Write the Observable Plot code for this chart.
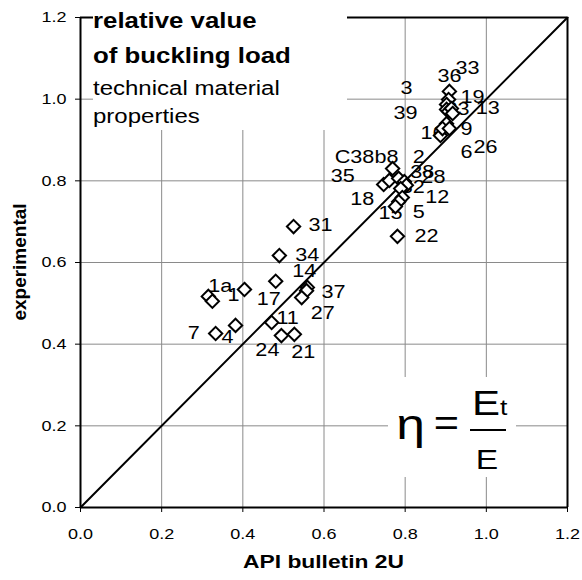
<!DOCTYPE html>
<html>
<head>
<meta charset="utf-8">
<script src="https://cdn.jsdelivr.net/npm/d3@7"></script>
<script src="https://cdn.jsdelivr.net/npm/@observablehq/plot@0.6"></script>
<style>
  html, body { margin: 0; padding: 0; background: #fff; }
  #chart svg { display: block; }
</style>
</head>
<body>
<div id="chart"></div>
<script>
// Relative buckling load per specimen: API Bulletin 2U prediction (x) vs. test result (y)
const specimen = [
  "36", "33", "19", "3", "39", "23", "13", "9", "16", "6", "26",
  "C38b8", "35", "18", "2", "38", "28", "32", "12", "5", "15", "22",
  "31", "34", "14", "17", "1", "1a", "", "37", "27", "11", "24", "21", "7", "4"
];
const api2U = [
  0.909, 0.907, 0.902, 0.902, 0.907, 0.914, 0.917, 0.902, 0.887, 0.892, 0.909,
  0.769, 0.747, 0.761, 0.784, 0.798, 0.803, 0.789, 0.793, 0.784, 0.776, 0.781,
  0.525, 0.490, 0.559, 0.481, 0.404, 0.315, 0.325, 0.557, 0.545, 0.471, 0.495, 0.527, 0.333, 0.382
];
const experimental = [
  1.019, 0.999, 0.987, 0.975, 0.970, 0.977, 0.965, 0.940, 0.911, 0.928, 0.928,
  0.830, 0.791, 0.801, 0.806, 0.798, 0.789, 0.781, 0.759, 0.749, 0.737, 0.664,
  0.688, 0.617, 0.539, 0.554, 0.534, 0.517, 0.505, 0.531, 0.514, 0.453, 0.421, 0.424, 0.426, 0.446
];
const axisTicks = [0, 0.2, 0.4, 0.6, 0.8, 1.0, 1.2];
const gridTicks = [0.2, 0.4, 0.6, 0.8, 1.0];
const parity = [0, 1.2];
const titleLines = ["relative value", "of buckling load"];
const subtitleLines = ["technical material", "properties"];
const xTitle = "API bulletin 2U";
const yTitle = "experimental";

// where each specimen number sits relative to its marker, in pixels (right, down)
const labelNudge = {
  "36": [0, -15], "33": [19, -31], "19": [26, -7], "3": [-40, -21], "39": [-43, 2],
  "23": [6, 1], "13": [35, -5], "9": [20, 6], "16": [-8, -2], "6": [24, 24], "26": [36, 19],
  "C38b8": [-26, -11], "35": [-41, -8], "18": [-27, 19], "2": [20, -21], "38": [18, -9],
  "28": [27, -8], "32": [12, -1], "12": [35, 0], "5": [20, 11], "15": [-5, 7], "22": [29, 0],
  "31": [27, -1], "34": [28, 0], "14": [-3, -16], "17": [-7, 18], "1": [-11, 6], "1a": [12, -10],
  "37": [27, 2], "27": [21, 16], "11": [16, -4], "24": [-14, 15], "21": [9, 18], "7": [-22, 0], "4": [-8, 12]
};

const width = 582, height = 580;
const margin = {top: 17, right: 15, bottom: 73, left: 80};
const pxPerX = (width - margin.left - margin.right) / 1.2;
const pxPerY = (height - margin.top - margin.bottom) / 1.2;
const font = '"Liberation Sans", Arial, Helvetica, sans-serif';

const points = specimen.map((label, i) => ({label, x: api2U[i], y: experimental[i]}));
const labelled = points.filter(d => d.label);

// white panel with the chart heading, top left inside the frame
function headingBlock(index, scales, values, dims) {
  const g = d3.create("svg:g").attr("font-family", font).attr("fill", "black").attr("text-anchor", "start");
  const left = dims.marginLeft + 13, top = dims.marginTop;
  g.append("rect").attr("x", left).attr("y", top - 4).attr("width", 254).attr("height", 117).attr("fill", "#fff");
  titleLines.forEach((t, i) => g.append("text")
    .attr("x", left).attr("y", top + 11 + 35 * i)
    .attr("font-size", 21.5).attr("font-weight", "bold").text(t));
  subtitleLines.forEach((t, i) => g.append("text")
    .attr("x", left).attr("y", top + 78 + 28 * i)
    .attr("font-size", 20).text(t));
  return g.node();
}

// white panel with the tangent-modulus ratio, bottom right inside the frame
function formulaBlock(index, scales, values, dims) {
  const g = d3.create("svg:g").attr("font-family", font).attr("fill", "black");
  const right = dims.width - dims.marginRight, bottom = dims.height - dims.marginBottom;
  g.append("rect").attr("x", right - 179).attr("y", bottom - 130).attr("width", 128).attr("height", 100).attr("fill", "#fff");
  g.append("text").attr("x", right - 156.5).attr("y", bottom - 68)
    .attr("text-anchor", "middle").attr("font-size", 43).text("η");
  g.append("text").attr("x", right - 120.5).attr("y", bottom - 72)
    .attr("text-anchor", "middle").attr("font-size", 36).text("=");
  g.append("line").attr("x1", right - 97).attr("x2", right - 61)
    .attr("y1", bottom - 77).attr("y2", bottom - 77).attr("stroke", "black").attr("stroke-width", 2);
  const num = g.append("text").attr("x", right - 95).attr("y", bottom - 92).attr("text-anchor", "start");
  num.append("tspan").attr("font-size", 35).text("E");
  num.append("tspan").attr("font-size", 22).text("t");
  g.append("text").attr("x", right - 80).attr("y", bottom - 38)
    .attr("text-anchor", "middle").attr("font-size", 28).text("E");
  return g.node();
}

// axis titles
function axisTitles(index, scales, values, dims) {
  const g = d3.create("svg:g").attr("font-family", font).attr("font-weight", "bold").attr("fill", "black");
  const cx = (dims.marginLeft + dims.width - dims.marginRight) / 2;
  const cy = (dims.marginTop + dims.height - dims.marginBottom) / 2;
  g.append("text").attr("x", cx).attr("y", dims.height - 12)
    .attr("text-anchor", "middle").attr("font-size", 19).text(xTitle);
  g.append("text").attr("transform", `translate(26,${cy}) rotate(-90)`)
    .attr("text-anchor", "middle").attr("font-size", 19).text(yTitle);
  return g.node();
}

const chart = Plot.plot({
  width, height,
  marginTop: margin.top, marginRight: margin.right, marginBottom: margin.bottom, marginLeft: margin.left,
  style: {fontFamily: font, fontSize: "15px", color: "black", background: "white", overflow: "visible"},
  x: {domain: [0, 1.2]},
  y: {domain: [0, 1.2]},
  marks: [
    Plot.ruleX(gridTicks, {stroke: "#8a8a8a", strokeWidth: 1}),
    Plot.ruleY(gridTicks, {stroke: "#8a8a8a", strokeWidth: 1}),
    Plot.ruleX([1.2], {stroke: "black", strokeWidth: 2}),
    Plot.ruleY([1.2], {stroke: "black", strokeWidth: 2}),
    headingBlock,
    formulaBlock,
    Plot.line(parity, {x: d => d, y: d => d, stroke: "black", strokeWidth: 2}),
    Plot.text(labelled, {
      x: d => d.x + labelNudge[d.label][0] / pxPerX,
      y: d => d.y - labelNudge[d.label][1] / pxPerY,
      text: "label", fontSize: 18, textAnchor: "middle", lineAnchor: "middle", fill: "black"
    }),
    Plot.dot(points, {x: "x", y: "y", symbol: "diamond2", r: 6, stroke: "black", strokeWidth: 2, fill: "white"}),
    Plot.axisX(axisTicks, {tickSize: 5, tickPadding: 16, tickFormat: d3.format(".1f"), label: null, fontSize: 15}),
    Plot.axisY(axisTicks, {tickSize: 5, tickPadding: 9, tickFormat: d3.format(".1f"), label: null, fontSize: 15}),
    Plot.ruleX([0], {stroke: "black", strokeWidth: 2}),
    Plot.ruleY([0], {stroke: "black", strokeWidth: 2}),
    axisTitles
  ]
});

document.getElementById("chart").append(chart);

// the lettering of this figure runs wide; stretch horizontal text by the same factor
const stretch = 1.2;
chart.querySelectorAll("text").forEach(t => {
  const tr = t.getAttribute("transform") || "";
  if (/rotate/.test(tr)) return;
  const len = t.getComputedTextLength();
  if (len > 0) {
    t.setAttribute("textLength", len * stretch);
    t.setAttribute("lengthAdjust", "spacingAndGlyphs");
  }
});
</script>
</body>
</html>
